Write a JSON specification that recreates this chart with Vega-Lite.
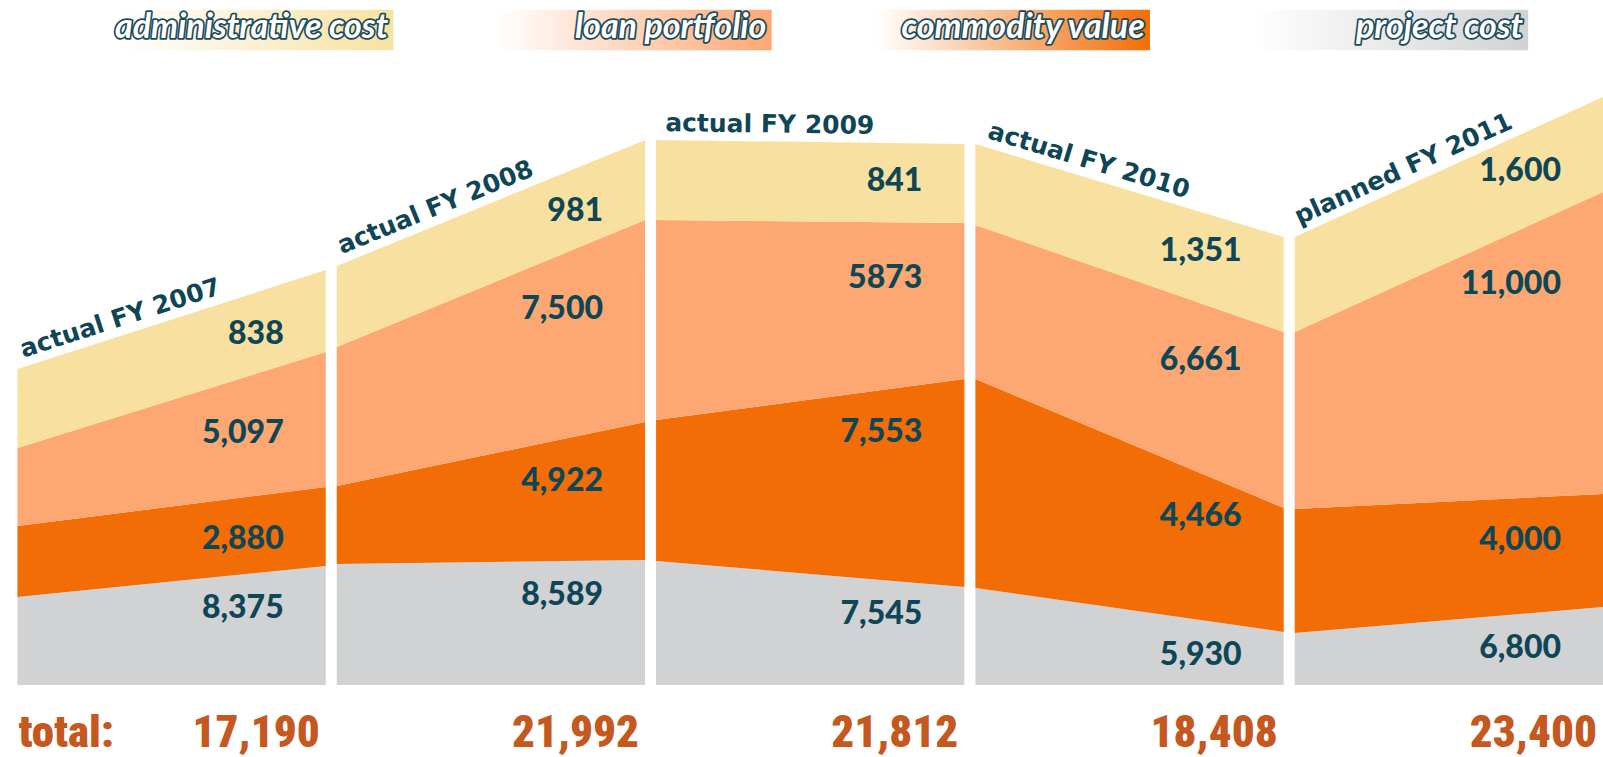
{
  "$schema": "https://vega.github.io/schema/vega-lite/v6.json",
  "width": 1603,
  "height": 757,
  "autosize": {"type": "none"},
  "padding": 0,
  "background": "white",
  "config": {"view": {"stroke": null}},
  "datasets": {
    "bands": [
      {"p": 0, "fy": "actual FY 2007", "k": 0, "layer": "project cost", "label": "8,375", "hL": 88, "hR": 119},
      {"p": 0, "fy": "actual FY 2007", "k": 1, "layer": "commodity value", "label": "2,880", "hL": 71, "hR": 79},
      {"p": 0, "fy": "actual FY 2007", "k": 2, "layer": "loan portfolio", "label": "5,097", "hL": 78, "hR": 135},
      {"p": 0, "fy": "actual FY 2007", "k": 3, "layer": "administrative cost", "label": "838", "hL": 79, "hR": 82},
      {"p": 1, "fy": "actual FY 2008", "k": 0, "layer": "project cost", "label": "8,589", "hL": 121, "hR": 125},
      {"p": 1, "fy": "actual FY 2008", "k": 1, "layer": "commodity value", "label": "4,922", "hL": 78, "hR": 138},
      {"p": 1, "fy": "actual FY 2008", "k": 2, "layer": "loan portfolio", "label": "7,500", "hL": 139, "hR": 202},
      {"p": 1, "fy": "actual FY 2008", "k": 3, "layer": "administrative cost", "label": "981", "hL": 81, "hR": 80},
      {"p": 2, "fy": "actual FY 2009", "k": 0, "layer": "project cost", "label": "7,545", "hL": 124, "hR": 98},
      {"p": 2, "fy": "actual FY 2009", "k": 1, "layer": "commodity value", "label": "7,553", "hL": 141, "hR": 208},
      {"p": 2, "fy": "actual FY 2009", "k": 2, "layer": "loan portfolio", "label": "5873", "hL": 200, "hR": 156},
      {"p": 2, "fy": "actual FY 2009", "k": 3, "layer": "administrative cost", "label": "841", "hL": 80, "hR": 79},
      {"p": 3, "fy": "actual FY 2010", "k": 0, "layer": "project cost", "label": "5,930", "hL": 97, "hR": 53},
      {"p": 3, "fy": "actual FY 2010", "k": 1, "layer": "commodity value", "label": "4,466", "hL": 209, "hR": 124},
      {"p": 3, "fy": "actual FY 2010", "k": 2, "layer": "loan portfolio", "label": "6,661", "hL": 154, "hR": 176},
      {"p": 3, "fy": "actual FY 2010", "k": 3, "layer": "administrative cost", "label": "1,351", "hL": 81, "hR": 95},
      {"p": 4, "fy": "planned FY 2011", "k": 0, "layer": "project cost", "label": "6,800", "hL": 52, "hR": 78},
      {"p": 4, "fy": "planned FY 2011", "k": 1, "layer": "commodity value", "label": "4,000", "hL": 124, "hR": 113},
      {"p": 4, "fy": "planned FY 2011", "k": 2, "layer": "loan portfolio", "label": "11,000", "hL": 177, "hR": 302},
      {"p": 4, "fy": "planned FY 2011", "k": 3, "layer": "administrative cost", "label": "1,600", "hL": 95, "hR": 95}
    ],
    "totals": [
      {"p": 0, "total": 17190},
      {"p": 1, "total": 21992},
      {"p": 2, "total": 21812},
      {"p": 3, "total": 18408},
      {"p": 4, "total": 23400}
    ],
    "legend": [
      {"layer": "administrative cost"},
      {"layer": "loan portfolio"},
      {"layer": "commodity value"},
      {"layer": "project cost"}
    ]
  },
  "resolve": {"scale": {"x": "independent"}},
  "layer": [
    {
      "data": {"name": "bands"},
      "layer": [
        {
          "transform": [
            {"fold": ["hL", "hR"], "as": ["side", "h"]},
            {"window": [{"op": "sum", "field": "h", "as": "top"}], "groupby": ["p", "side"], "sort": [{"field": "k", "order": "ascending"}]},
            {"calculate": "datum.top - datum.h", "as": "bot"},
            {"calculate": "datum.p + (datum.side == 'hR' ? 0.9655 : 0)", "as": "x"}
          ],
          "mark": {"type": "area", "interpolate": "linear"},
          "encoding": {
            "x": {"field": "x", "type": "quantitative", "scale": {"domain": [-0.0546, 4.9655], "nice": false, "zero": false}, "axis": null},
            "y": {"field": "top", "type": "quantitative", "scale": {"domain": [-72, 685], "nice": false, "zero": false}, "axis": null},
            "y2": {"field": "bot"},
            "color": {"field": "layer", "type": "nominal", "scale": {"domain": ["project cost", "commodity value", "loan portfolio", "administrative cost"], "range": ["#d1d2d4", "#f26d06", "#fda772", "#f8e1a0"]}, "legend": null},
            "detail": {"field": "p", "type": "nominal"}
          }
        },
        {
          "transform": [
            {"window": [{"op": "sum", "field": "hL", "as": "topL"}, {"op": "sum", "field": "hR", "as": "topR"}], "groupby": ["p"], "sort": [{"field": "k", "order": "ascending"}]},
            {"calculate": "datum.topL + 0.74 * (datum.topR - datum.topL) - (datum.k == 0 ? 34 : datum.k == 1 ? 42 : datum.k == 2 ? 56 : 38)", "as": "ly"},
            {"calculate": "datum.p + 0.9655", "as": "xr"}
          ],
          "mark": {"type": "text", "align": "right", "baseline": "middle", "dx": -42, "font": "Lato", "fontWeight": 900, "fontSize": 32, "color": "#0f4656"},
          "encoding": {
            "x": {"field": "xr", "type": "quantitative", "scale": {"domain": [-0.0546, 4.9655], "nice": false, "zero": false}, "axis": null},
            "y": {"field": "ly", "type": "quantitative", "scale": {"domain": [-72, 685], "nice": false, "zero": false}, "axis": null},
            "text": {"field": "label", "type": "nominal"}
          }
        },
        {
          "transform": [
            {"joinaggregate": [{"op": "sum", "field": "hL", "as": "TL"}, {"op": "sum", "field": "hR", "as": "TR"}], "groupby": ["p"]},
            {"filter": "datum.k == 3"},
            {"calculate": "-atan2(datum.TR - datum.TL, 308) * 180 / PI", "as": "ang"}
          ],
          "mark": {"type": "text", "align": "left", "baseline": "alphabetic", "dx": 9, "dy": -9, "font": "DejaVu Sans", "fontWeight": "bold", "fontSize": 25, "color": "#0f4656"},
          "encoding": {
            "x": {"field": "p", "type": "quantitative", "scale": {"domain": [-0.0546, 4.9655], "nice": false, "zero": false}, "axis": null},
            "y": {"field": "TL", "type": "quantitative", "scale": {"domain": [-72, 685], "nice": false, "zero": false}, "axis": null},
            "angle": {"field": "ang", "type": "quantitative", "scale": null},
            "text": {"field": "fy", "type": "nominal"}
          }
        },
        {
          "data": {"name": "totals"},
          "transform": [{"calculate": "datum.p + 0.9655", "as": "xr"}],
          "mark": {"type": "text", "align": "right", "baseline": "alphabetic", "dx": -6, "dy": -10, "font": "'Roboto Condensed', 'Open Sans Condensed', 'DejaVu Sans Condensed', sans-serif", "fontWeight": 900, "fontSize": 45, "color": "#c5581f"},
          "encoding": {
            "x": {"field": "xr", "type": "quantitative", "scale": {"domain": [-0.0546, 4.9655], "nice": false, "zero": false}, "axis": null},
            "y": {"value": "height"},
            "text": {"field": "total", "type": "quantitative", "format": ","}
          }
        },
        {
          "data": {"values": [{"t": "total:"}]},
          "mark": {"type": "text", "align": "left", "baseline": "alphabetic", "dx": 1, "dy": -10, "font": "'Roboto Condensed', 'Open Sans Condensed', 'DejaVu Sans Condensed', sans-serif", "fontWeight": 900, "fontSize": 45, "color": "#c5581f"},
          "encoding": {
            "x": {"datum": 0, "type": "quantitative", "scale": {"domain": [-0.0546, 4.9655], "nice": false, "zero": false}, "axis": null},
            "y": {"value": "height"},
            "text": {"field": "t", "type": "nominal"}
          }
        }
      ]
    },
    {
      "data": {"name": "legend"},
      "layer": [
        {
          "mark": {"type": "rect"},
          "encoding": {
            "x": {"field": "layer", "type": "nominal", "scale": {"type": "band", "domain": ["administrative cost", "loan portfolio", "commodity value", "project cost"], "paddingInner": 0.2123, "paddingOuter": 0.2249, "align": 0.565}, "axis": null},
            "y": {"datum": 676, "type": "quantitative", "scale": {"domain": [-72, 685], "nice": false, "zero": false}, "axis": null},
            "y2": {"datum": 634},
            "color": {"field": "layer", "type": "nominal", "scale": {"domain": ["project cost", "commodity value", "loan portfolio", "administrative cost"], "range": ["#d1d2d4", "#f26d06", "#fda772", "#f8e1a0"]}, "legend": null}
          }
        },
        {
          "mark": {"type": "rect", "stroke": "#ffffff", "strokeWidth": 1.5, "fill": {"gradient": "linear", "x1": 0, "y1": 0, "x2": 1, "y2": 0, "stops": [{"offset": 0, "color": "rgba(255,255,255,1)"}, {"offset": 0.08, "color": "rgba(255,255,255,1)"}, {"offset": 1, "color": "rgba(255,255,255,0)"}]}},
          "encoding": {
            "x": {"field": "layer", "type": "nominal", "scale": {"type": "band", "domain": ["administrative cost", "loan portfolio", "commodity value", "project cost"], "paddingInner": 0.2123, "paddingOuter": 0.2249, "align": 0.565}, "axis": null},
            "y": {"datum": 676, "type": "quantitative", "scale": {"domain": [-72, 685], "nice": false, "zero": false}, "axis": null},
            "y2": {"datum": 634}
          }
        },
        {
          "mark": {"type": "text", "align": "right", "baseline": "alphabetic", "dx": -6, "font": "Lato", "fontStyle": "italic", "fontWeight": "bold", "fontSize": 34, "fill": "#1b4a5a", "stroke": "#1b4a5a", "strokeWidth": 3.5, "strokeJoin": "round"},
          "encoding": {
            "x": {"field": "layer", "type": "nominal", "bandPosition": 1, "scale": {"type": "band", "domain": ["administrative cost", "loan portfolio", "commodity value", "project cost"], "paddingInner": 0.2123, "paddingOuter": 0.2249, "align": 0.565}, "axis": null},
            "y": {"datum": 647, "type": "quantitative", "scale": {"domain": [-72, 685], "nice": false, "zero": false}, "axis": null},
            "text": {"field": "layer", "type": "nominal"}
          }
        },
        {
          "mark": {"type": "text", "align": "right", "baseline": "alphabetic", "dx": -6, "font": "Lato", "fontStyle": "italic", "fontWeight": "bold", "fontSize": 34, "fill": "#ffffff"},
          "encoding": {
            "x": {"field": "layer", "type": "nominal", "bandPosition": 1, "scale": {"type": "band", "domain": ["administrative cost", "loan portfolio", "commodity value", "project cost"], "paddingInner": 0.2123, "paddingOuter": 0.2249, "align": 0.565}, "axis": null},
            "y": {"datum": 647, "type": "quantitative", "scale": {"domain": [-72, 685], "nice": false, "zero": false}, "axis": null},
            "text": {"field": "layer", "type": "nominal"}
          }
        }
      ]
    }
  ]
}
